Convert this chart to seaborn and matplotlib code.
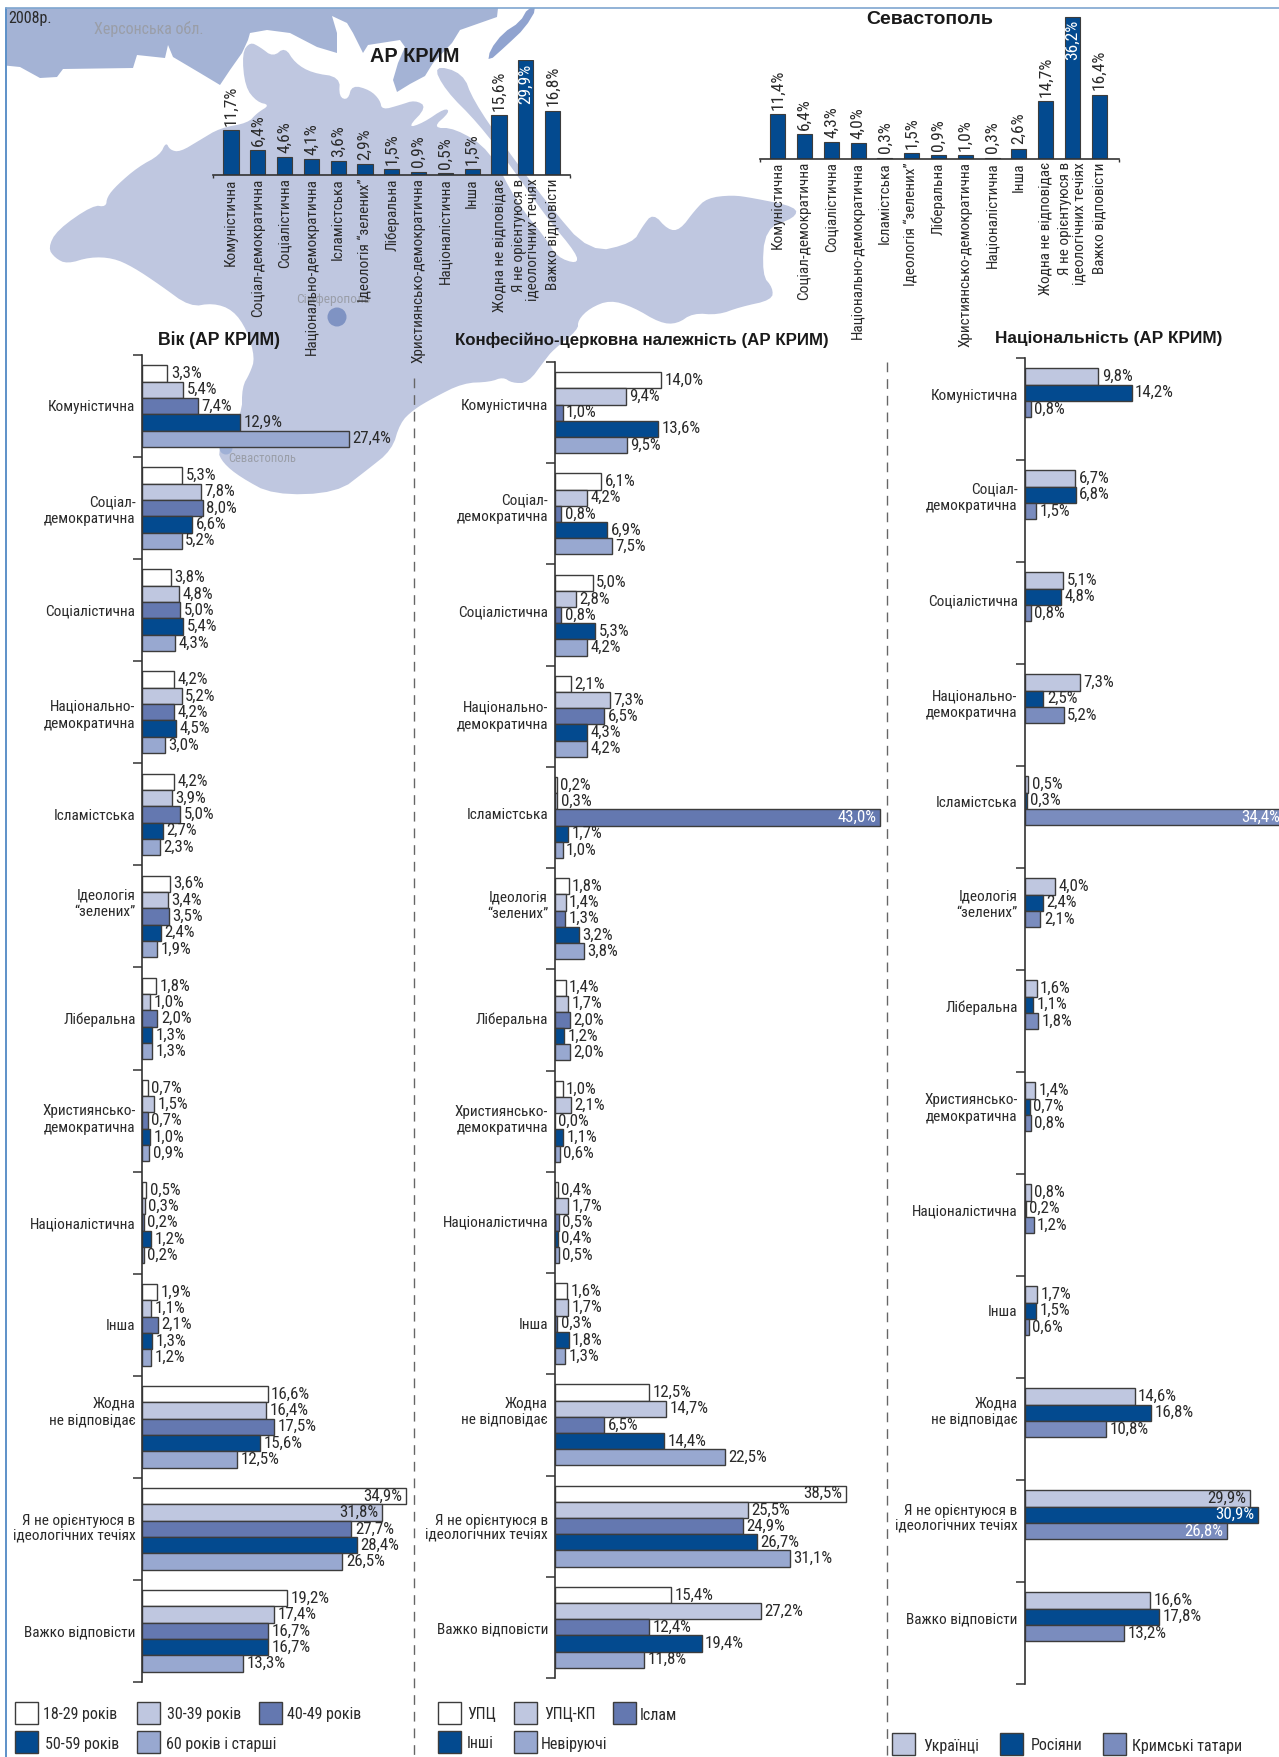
import matplotlib.pyplot as plt
import numpy as np
import pandas as pd
import seaborn as sns

sns.set_theme(style='white')
plt.rcParams['font.family'] = ['Roboto Condensed', 'PT Sans Narrow', 'Liberation Sans', 'DejaVu Sans']

W, H = 1279, 1757
TEXT = '#2a2a2a'
GREY = '#9a9ea8'
EDGE = '#3c3c3c'
FS = 11
FS_VAL = 12.2
FS_TOP_VAL = 12.6

CATS_SHORT = ['Комуністична', 'Соціал-демократична', 'Соціалістична', 'Національно-демократична',
              'Ісламістська', 'Ідеологія “зелених”', 'Ліберальна', 'Християнсько-демократична',
              'Націоналістична', 'Інша', 'Жодна не відповідає',
              'Я не орієнтуюся в\nідеологічних течіях', 'Важко відповісти']
CATS = ['Комуністична', 'Соціал-\nдемократична', 'Соціалістична', 'Національно-\nдемократична',
        'Ісламістська', 'Ідеологія\n“зелених”', 'Ліберальна', 'Християнсько-\nдемократична',
        'Націоналістична', 'Інша', 'Жодна\nне відповідає',
        'Я не орієнтуюся в\nідеологічних течіях', 'Важко відповісти']

CRIMEA = [11.7, 6.4, 4.6, 4.1, 3.6, 2.9, 1.5, 0.9, 0.5, 1.5, 15.6, 29.9, 16.8]
SEVASTOPOL = [11.4, 6.4, 4.3, 4.0, 0.3, 1.5, 0.9, 1.0, 0.3, 2.6, 14.7, 36.2, 16.4]

AGE_NAMES = ['18-29 років', '30-39 років', '40-49 років', '50-59 років', '60 років і старші']
AGE_18 = [3.3, 5.3, 3.8, 4.2, 4.2, 3.6, 1.8, 0.7, 0.5, 1.9, 16.6, 34.9, 19.2]
AGE_30 = [5.4, 7.8, 4.8, 5.2, 3.9, 3.4, 1.0, 1.5, 0.3, 1.1, 16.4, 31.8, 17.4]
AGE_40 = [7.4, 8.0, 5.0, 4.2, 5.0, 3.5, 2.0, 0.7, 0.2, 2.1, 17.5, 27.7, 16.7]
AGE_50 = [12.9, 6.6, 5.4, 4.5, 2.7, 2.4, 1.3, 1.0, 1.2, 1.3, 15.6, 28.4, 16.7]
AGE_60 = [27.4, 5.2, 4.3, 3.0, 2.3, 1.9, 1.3, 0.9, 0.2, 1.2, 12.5, 26.5, 13.3]

CONF_NAMES = ['УПЦ', 'УПЦ-КП', 'Іслам', 'Інші', 'Невіруючі']
CONF_UOC = [14.0, 6.1, 5.0, 2.1, 0.2, 1.8, 1.4, 1.0, 0.4, 1.6, 12.5, 38.5, 15.4]
CONF_KP = [9.4, 4.2, 2.8, 7.3, 0.3, 1.4, 1.7, 2.1, 1.7, 1.7, 14.7, 25.5, 27.2]
CONF_ISLAM = [1.0, 0.8, 0.8, 6.5, 43.0, 1.3, 2.0, 0.0, 0.5, 0.3, 6.5, 24.9, 12.4]
CONF_OTHER = [13.6, 6.9, 5.3, 4.3, 1.7, 3.2, 1.2, 1.1, 0.4, 1.8, 14.4, 26.7, 19.4]
CONF_NONE = [9.5, 7.5, 4.2, 4.2, 1.0, 3.8, 2.0, 0.6, 0.5, 1.3, 22.5, 31.1, 11.8]

NAT_NAMES = ['Українці', 'Росіяни', 'Кримські татари']
NAT_UA = [9.8, 6.7, 5.1, 7.3, 0.5, 4.0, 1.6, 1.4, 0.8, 1.7, 14.6, 29.9, 16.6]
NAT_RU = [14.2, 6.8, 4.8, 2.5, 0.3, 2.4, 1.1, 0.7, 0.2, 1.5, 16.8, 30.9, 17.8]
NAT_TT = [0.8, 1.5, 0.8, 5.2, 34.4, 2.1, 1.8, 0.8, 1.2, 0.6, 10.8, 26.8, 13.2]

COL_AGE = ['#ffffff', '#bfc7e0', '#6478b0', '#034a8f', '#98a8d0']
COL_NAT = ['#bfc7e0', '#034a8f', '#7a8cbe']

# category label nudges per panel, in category units
NUDGE_AGE = [-.01, 0, 0, 0, 0, -.15, 0, -.04, 0, 0, -.17, -.02, 0]
NUDGE_CONF = [-.08, -.08, -.04, -.03, -.04, -.16, -.02, -.04, -.01, 0, -.16, 0, .01]
NUDGE_NAT = [-.14, -.16, -.13, -.13, -.15, -.17, -.14, -.17, -.15, -.16, -.20, -.14, -.15]

# map backdrop, traced in image pixels
KHERSON = [(0, 8), (498, 8), (497, 17), (460, 30), (452, 43), (433, 63), (425, 76), (410, 84), (397, 92),
           (393, 80), (398, 63), (405, 47), (400, 40), (368, 45), (363, 53), (353, 33), (347, 23), (332, 16),
           (337, 33), (337, 53), (317, 47), (290, 33), (267, 30), (250, 33), (248, 40), (242, 53), (230, 70),
           (220, 85), (200, 73), (173, 57), (168, 45), (165, 58), (137, 55), (133, 68), (63, 69), (57, 77),
           (40, 78), (20, 67), (0, 65)]
LENS = [(537, 8), (525, 28), (507, 45), (488, 62), (490, 50), (503, 33), (520, 22), (528, 8)]
PENINSULA = [(250, 42), (260, 47), (273, 57), (285, 47), (295, 63), (312, 73), (340, 77), (339, 97), (348, 100),
             (352, 85), (370, 90), (380, 100), (382, 110), (400, 105), (415, 100), (427, 107), (407, 128),
             (423, 123), (445, 108), (450, 112), (432, 128), (455, 128), (490, 150), (517, 203), (547, 240),
             (557, 257), (577, 264), (577, 254), (547, 218), (510, 165), (478, 123), (445, 90), (433, 65),
             (463, 73), (473, 100), (505, 147), (547, 203), (590, 253), (633, 243), (642, 227), (653, 213),
             (668, 230), (680, 230), (695, 210), (707, 198), (732, 195), (753, 198), (797, 207), (795, 218),
             (765, 228), (762, 275), (773, 288), (772, 300), (740, 307), (718, 315), (693, 313), (677, 324),
             (660, 323), (633, 307), (610, 300), (590, 308), (578, 320), (578, 330), (553, 350), (545, 360),
             (528, 383), (512, 383), (503, 377), (490, 382), (463, 383), (433, 398), (413, 410), (400, 423),
             (392, 450), (367, 470), (337, 493), (273, 495), (240, 477), (223, 463), (217, 450), (242, 415),
             (242, 387), (250, 373), (255, 358), (247, 330), (233, 310), (213, 303), (190, 307), (160, 285),
             (133, 267), (113, 258), (90, 257), (67, 264), (55, 258), (48, 248), (57, 230), (93, 205),
             (106, 207), (107, 197), (117, 185), (138, 167), (160, 155), (166, 142), (170, 150), (180, 152),
             (200, 140), (220, 128), (248, 123), (257, 113), (270, 105), (257, 102), (245, 87), (242, 53)]


def px_axes(fig, left, top, right, bottom):
    """Axes placed by image pixels."""
    return fig.add_axes([left / W, 1 - bottom / H, (right - left) / W, (bottom - top) / H], facecolor='none')


def smooth(points, rounds=2):
    """Round the traced coast a little (Chaikin)."""
    pts = np.array(points, dtype=float)
    for _ in range(rounds):
        nxt = np.roll(pts, -1, axis=0)
        pts = np.column_stack([0.75 * pts + 0.25 * nxt, 0.25 * pts + 0.75 * nxt]).reshape(-1, 2)
    return pts


def pct(val):
    return f'{val:.1f}%'.replace('.', ',')


def draw_backdrop(fig):
    bg = fig.add_axes([0, 0, 1, 1])
    bg.set_xlim(0, W)
    bg.set_ylim(H, 0)
    bg.axis('off')
    bg.fill(*np.array(KHERSON).T, color='#a4b3d5', lw=0)
    bg.fill(*smooth(LENS, 1).T, color='#90a3cf', lw=0)
    bg.fill(*smooth(PENINSULA).T, color='#bfc7e0', lw=0)
    bg.add_patch(plt.Circle((337, 317), 9.5, color='#7f93c3', lw=0))
    bg.add_patch(plt.Circle((226, 448), 6.5, color='#9fb0d6', lw=0))
    bg.add_patch(plt.Rectangle((0, 0), 5.5, H, color='white', lw=0))
    bg.plot([6, 6], [8, H], color='#5d90c8', lw=1.4)
    bg.plot([6, W], [8, 8], color='#7fa6d0', lw=1.2)
    for x, y0 in ((414, 378), (887, 362)):
        bg.plot([x, x], [y0, H], color='#666666', lw=1, ls=(0, (7, 5)))
    bg.text(8, 19, '2008р.', fontsize=11.5, color=TEXT, va='center')
    bg.text(149, 29, 'Херсонська обл.', fontsize=11.5, color=GREY, ha='center', va='center')
    bg.text(333, 300, 'Сімферополь', fontsize=9.6, color=GREY, ha='center', va='center')
    bg.text(262, 458, 'Севастополь', fontsize=9, color=GREY, ha='center', va='center')
    for x, y, label, size in ((415, 57, 'АР КРИМ', 14.3), (930, 20, 'Севастополь', 14),
                              (219, 340, 'Вік (АР КРИМ)', 12.7),
                              (642, 340, 'Конфесійно-церковна належність (АР КРИМ)', 12.15),
                              (1109, 338, 'Національність (АР КРИМ)', 12.4)):
        bg.text(x, y, label, fontsize=size, fontweight='bold', family=['Liberation Sans'], color='#1a1a1a',
                ha='center', va='center')
    return bg


def draw_legend(bg, names, colours, slots):
    for name, colour, (sx, tx, ytop, h) in zip(names, colours, slots):
        bg.add_patch(plt.Rectangle((sx, ytop), 23, h, facecolor=colour, edgecolor=EDGE, lw=1))
        bg.text(tx, ytop + h / 2 + 2, name, fontsize=11.5, color=TEXT, va='center')


def top_chart(fig, values, box, x_first, ymax, inside):
    left, top, right, bottom = box
    ax = px_axes(fig, left, top, right, bottom)
    frame = pd.DataFrame({'party': CATS_SHORT, 'share': values})
    sns.barplot(data=frame, x='party', y='share', color='#034a8f', saturation=1, width=0.56, ax=ax,
                edgecolor=EDGE, linewidth=0.8)
    lims = (left - x_first) / 26.8, (right - x_first) / 26.8
    ax.set_xlim(*lims)
    ax.set_ylim(0, ymax)
    ax.set_xlabel('')
    ax.set_ylabel('')
    ax.set_yticks([])
    sns.despine(ax=ax, left=True)
    ax.spines['bottom'].set_color('#333333')
    ax.spines['bottom'].set_linewidth(1.2)
    ax.set_xticks(lims, minor=True)
    ax.tick_params(axis='x', which='minor', length=2, width=1, color='#333333', bottom=True)
    ax.tick_params(axis='x', which='major', length=0, pad=2.5)
    for label in ax.get_xticklabels():
        label.set(rotation=90, ha='right', va='center', rotation_mode='anchor', fontsize=FS, color=TEXT,
                  linespacing=1.0)
    for i, val in enumerate(values):
        if i == inside:
            ax.annotate(pct(val), (i, val), xytext=(0, -2), textcoords='offset points', rotation=90, ha='center',
                        va='top', fontsize=FS_TOP_VAL, color='white')
        else:
            ax.annotate(pct(val), (i, val), xytext=(0, 3), textcoords='offset points', rotation=90, ha='center',
                        va='bottom', fontsize=FS_TOP_VAL, color=TEXT)
    return ax


def side_chart(fig, series, names, colours, box, xmax, nudge, inside):
    ax = px_axes(fig, *box)
    # slots that stay empty keep the bar height of the five-series panels
    levels = names + [' ' * n for n in range(1, 6 - len(names))]
    frame = pd.DataFrame({
        'party': CATS * len(names),
        'group': np.repeat(names, len(CATS)),
        'share': np.concatenate(series),
    })
    sns.barplot(data=frame, y='party', x='share', hue='group', hue_order=levels, order=CATS,
                palette=(colours + ['#ffffff'] * 5)[:5], saturation=1, width=0.8, dodge=True, legend=False,
                edgecolor=EDGE, linewidth=1, ax=ax)
    ax.set_xlim(0, xmax)
    ax.set_ylim(12.5, -0.5)
    ax.set_xlabel('')
    ax.set_ylabel('')
    ax.set_xticks([])
    ax.set_yticks(np.arange(-0.5, 13), labels=[''] * 14)
    ax.set_yticks(np.arange(13) + np.array(nudge), labels=CATS, minor=True)
    ax.tick_params(axis='y', which='major', length=6.5, width=1.1, color='#333333', left=True)
    ax.tick_params(axis='y', which='minor', length=0, pad=5, labelsize=FS, labelcolor=TEXT)
    for label in ax.get_yticklabels(minor=True):
        label.set_linespacing(1.0 if 'орієнтуюся' in label.get_text() else 1.25)
    sns.despine(ax=ax, bottom=True)
    ax.spines['left'].set_color('#333333')
    ax.spines['left'].set_linewidth(1.2)
    for s, (container, vals) in enumerate(zip(ax.containers, series)):
        for c, (bar, val) in enumerate(zip(container, vals)):
            y = bar.get_y() + bar.get_height() / 2
            if (s, c) in inside:
                ax.annotate(pct(val), (val, y), xytext=(-2.5, 0), textcoords='offset points', ha='right', va='center',
                            fontsize=FS_VAL, color=inside[(s, c)])
            else:
                ax.annotate(pct(val), (val, y), xytext=(2.5, 0), textcoords='offset points', ha='left', va='center',
                            fontsize=FS_VAL, color=TEXT)
    return ax


def main():
    fig = plt.figure(figsize=(W / 100, H / 100), dpi=100)
    bg = draw_backdrop(fig)

    top_chart(fig, CRIMEA, (213, 60, 570, 175), 231, 115 / 3.83, 11)
    top_chart(fig, SEVASTOPOL, (759.5, 15, 1119, 158.7), 777.7, 143.7 / 3.91, 11)

    side_chart(fig, [AGE_18, AGE_30, AGE_40, AGE_50, AGE_60], AGE_NAMES, COL_AGE, (142.4, 355, 414, 1682), 36,
               NUDGE_AGE, {(0, 11): TEXT, (1, 11): TEXT})
    side_chart(fig, [CONF_UOC, CONF_KP, CONF_ISLAM, CONF_OTHER, CONF_NONE], CONF_NAMES, COL_AGE, (555, 362, 895, 1678),
               45, NUDGE_CONF, {(0, 11): TEXT, (2, 4): 'white'})
    side_chart(fig, [NAT_UA, NAT_RU, NAT_TT], NAT_NAMES, COL_NAT, (1024.5, 358, 1296, 1684), 36, NUDGE_NAT,
               {(0, 11): TEXT, (1, 11): 'white', (2, 11): 'white', (2, 4): 'white'})

    draw_legend(bg, AGE_NAMES, COL_AGE, [(15, 43, 1702, 22), (137, 167, 1702, 22), (259, 287, 1702, 22),
                                         (15, 45, 1731, 22), (137, 166, 1731, 22)])
    draw_legend(bg, CONF_NAMES, COL_AGE, [(438, 467, 1702, 22), (514, 544, 1702, 22), (613, 640, 1702, 22),
                                          (438, 467, 1731, 22), (514, 541, 1731, 22)])
    draw_legend(bg, NAT_NAMES, COL_NAT, [(892, 923, 1733, 22), (1000, 1031, 1733, 22), (1103, 1132, 1733, 22)])

    fig.savefig('out.png', dpi=100)


if __name__ == '__main__':
    main()
